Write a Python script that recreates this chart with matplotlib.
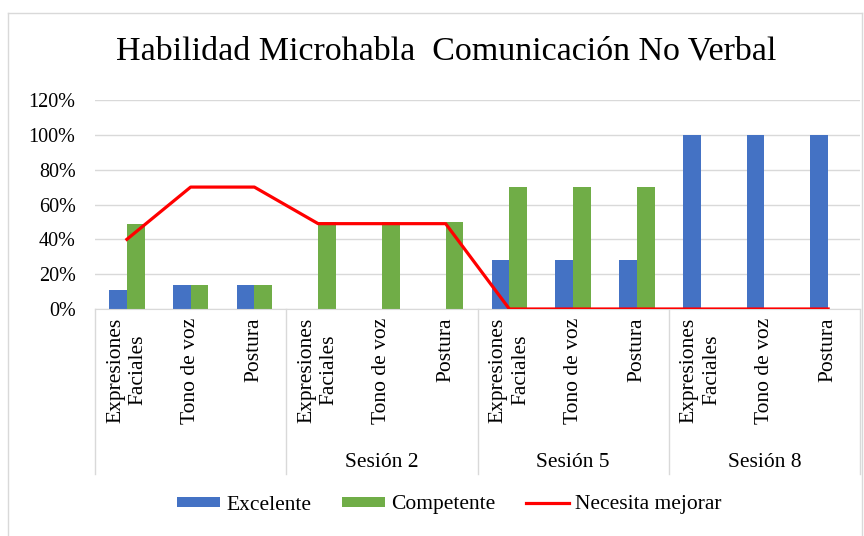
import matplotlib
matplotlib.use('Agg')
import matplotlib.pyplot as plt
from matplotlib.lines import Line2D
import numpy as np
from matplotlib.ticker import PercentFormatter

plt.rcParams['font.family'] = ['Liberation Serif', 'DejaVu Serif']

categories = ['Expresiones\nFaciales', 'Tono de voz', 'Postura'] * 4
sessions = ['', 'Sesión 2', 'Sesión 5', 'Sesión 8']
excelente = [11, 14, 14, 0, 0, 0, 28, 28, 28, 100, 100, 100]
competente = [49, 14, 14, 50, 50, 50, 70, 70, 70, 0, 0, 0]
necesita = [40, 70, 70, 49, 49, 49, 0, 0, 0, 0, 0, 0]

W, H = 864, 536
fig = plt.figure(figsize=(W / 100, H / 100), dpi=100)
ax = fig.add_axes([95 / W, 1 - 309 / H, 765 / W, 209 / H])

x = np.arange(len(categories))
w = 0.28
b1 = ax.bar(x - w / 2, excelente, w, color='#4472C4', label='Excelente', zorder=2)
b2 = ax.bar(x + w / 2, competente, w, color='#70AD47', label='Competente', zorder=2)
l1, = ax.plot(x, necesita, color='#FF0000', lw=2.3, label='Necesita mejorar', zorder=3)

ax.set_ylim(0, 120)
ax.set_xlim(-0.5, len(categories) - 0.5)
ax.set_yticks(np.arange(0, 121, 20))
ax.yaxis.set_major_formatter(PercentFormatter(decimals=0))
ax.grid(axis='y', color='#D9D9D9', lw=1, zorder=0)
for s in ['top', 'right', 'left']:
    ax.spines[s].set_visible(False)
ax.spines['bottom'].set_color('#D9D9D9')
ax.tick_params(axis='y', length=0, labelsize=14.5, pad=14)
ax.set_xticks(x)
ax.set_xticklabels(categories, rotation=90, fontsize=15.5, linespacing=1.25)
ax.tick_params(axis='x', length=0, pad=6)

# group separators and session labels
trans = ax.get_xaxis_transform()
for b in np.arange(-0.5, len(categories), 3):
    ax.plot([b, b], [0, -0.79], color='#D9D9D9', lw=1, transform=trans, clip_on=False)
for i, s in enumerate(sessions):
    ax.text(3 * i + 1, -0.735, s, transform=trans, ha='center', va='center', fontsize=15.5)

fig.suptitle('Habilidad Microhabla  Comunicación No Verbal', fontsize=24.5, x=0.516, y=1 - 51 / H, va='center')
fig.legend([b1, b2, l1], ['Excelente', 'Competente', 'Necesita mejorar'],
           loc='center', bbox_to_anchor=(0.52, 1 - 505 / H), ncol=3, frameon=False,
           fontsize=15.5, handlelength=2.0, handleheight=0.33, columnspacing=1.4, handletextpad=0.3)

# chart area border
for xs, ys in [([8, 862], [13, 13]), ([8, 8], [13, 540]), ([862, 862], [13, 540])]:
    fig.add_artist(Line2D([v / W for v in xs], [1 - v / H for v in ys], color='#D9D9D9', lw=1))

fig.savefig('out.png', dpi=100)
